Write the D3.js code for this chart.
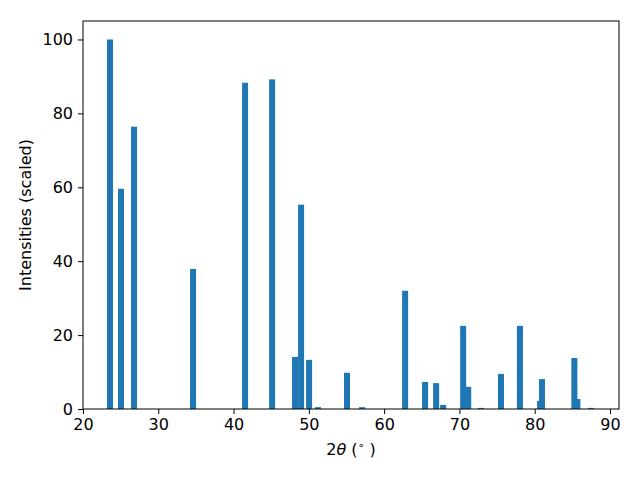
<!DOCTYPE html>
<html>
<head>
<meta charset="utf-8">
<script src="https://cdn.jsdelivr.net/npm/d3@7"></script>
<style>
  body { margin: 0; background: #fff; }
  svg { font-family: "DejaVu Sans", sans-serif; }
</style>
</head>
<body>
<div id="chart"></div>
<script>
// peak positions (2theta) and scaled intensities
var angles = [23.59, 25.05, 26.78, 34.62, 41.53, 45.12, 48.17, 48.97, 50.03, 51.23,
              55.07, 57.07, 62.79, 65.44, 66.91, 67.84, 70.5, 71.17, 72.87, 75.52,
              78.04, 80.72, 80.97, 85.27, 85.67, 87.5];
var intensities = [100, 59.6, 76.4, 37.9, 88.3, 89.2, 14.1, 55.3, 13.3, 0.5,
                   9.8, 0.5, 32.0, 7.3, 7.0, 1.1, 22.5, 6.0, 0.3, 9.5,
                   22.5, 2.2, 8.1, 13.8, 2.7, 0.3];
var xTicks = [20, 30, 40, 50, 60, 70, 80, 90];
var yTicks = [0, 20, 40, 60, 80, 100];

var data = angles.map(function(a, i) { return { x: a, y: intensities[i] }; });

var W = 640, H = 480;
var margin = { top: 21, right: 21, bottom: 71, left: 83 },
    width = W - margin.left - margin.right,
    height = H - margin.top - margin.bottom;

var svg = d3.select("#chart")
    .append("svg")
    .attr("width", W)
    .attr("height", H)
    .append("g")
    .attr("transform", "translate(" + margin.left + "," + margin.top + ")");

var x = d3.scaleLinear().domain([20, 91.2]).range([0, width]);
var y = d3.scaleLinear().domain([0, 105]).range([height, 0]);
var barW = 0.8;

svg.selectAll("rect.bar")
    .data(data)
    .enter()
    .append("rect")
    .attr("class", "bar")
    .attr("x", function(d) { return x(d.x - barW / 2); })
    .attr("width", function(d) { return x(d.x + barW / 2) - x(d.x - barW / 2); })
    .attr("y", function(d) { return y(d.y); })
    .attr("height", function(d) { return height - y(d.y); })
    .style("fill", "#1f77b4");

var xAxis = svg.append("g")
    .attr("transform", "translate(0," + height + ")")
    .call(d3.axisBottom(x).tickValues(xTicks).tickSize(5).tickPadding(5));
var yAxis = svg.append("g")
    .call(d3.axisLeft(y).tickValues(yTicks).tickSize(5).tickPadding(5));

[xAxis, yAxis].forEach(function(g) {
    g.select(".domain").remove();
    g.selectAll("line").style("stroke", "#000").style("stroke-width", 1);
    g.selectAll("text").style("font-size", "16px").style("fill", "#000")
        .style("font-family", "DejaVu Sans");
});

// frame
svg.append("rect")
    .attr("width", width)
    .attr("height", height)
    .style("fill", "none")
    .style("stroke", "#000")
    .style("stroke-width", 1);

// x label: 2θ (°)
var xl = svg.append("text")
    .attr("x", width / 2)
    .attr("y", height + 46)
    .attr("text-anchor", "middle")
    .style("font-size", "16px");
xl.append("tspan").text("2");
xl.append("tspan").style("font-style", "italic").text("θ");
xl.append("tspan").text(" (");
xl.append("tspan").attr("dy", -6).style("font-size", "11px").text("∘");
xl.append("tspan").attr("dy", 6).text(" )");

svg.append("text")
    .attr("transform", "translate(" + (-52) + "," + (height / 2) + ") rotate(-90)")
    .attr("text-anchor", "middle")
    .style("font-size", "16px")
    .text("Intensities (scaled)");
</script>
</body>
</html>
